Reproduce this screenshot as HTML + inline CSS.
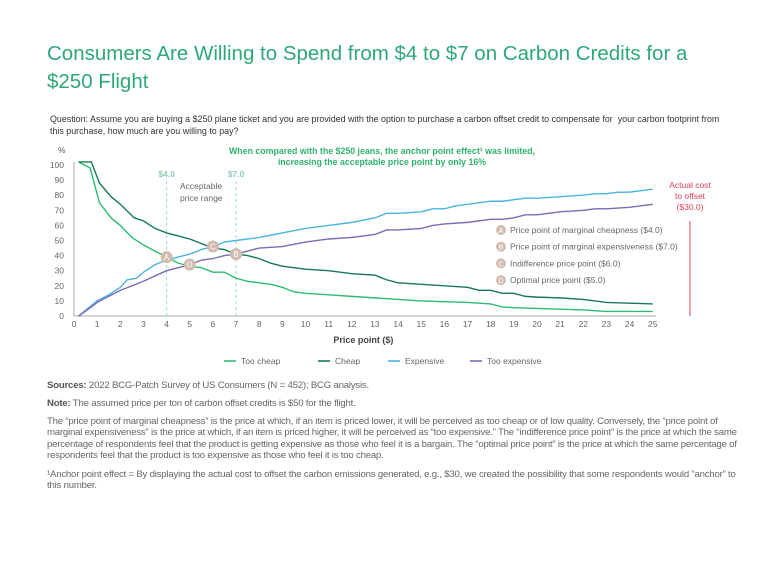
<!DOCTYPE html>
<html><head><meta charset="utf-8">
<style>
body{margin:0;width:768px;height:562px;background:#fff;font-family:"Liberation Sans",sans-serif;overflow:hidden;position:relative}
.t{position:absolute}
#title{left:47px;top:40px;width:670px;font-size:20.5px;line-height:28px;color:#2fa877}
#q{left:50px;top:113px;width:672px;font-size:8.9px;line-height:12px;color:#333}
.note{left:47px;width:694px;font-size:9.6px;line-height:11.4px;color:#666;letter-spacing:-0.2px}
.note b{color:#555}
</style></head><body>
<div id="title" class="t">Consumers Are Willing to Spend from $4 to $7 on Carbon Credits for a $250 Flight</div>
<div id="q" class="t">Question: Assume you are buying a $250 plane ticket and you are provided with the option to purchase a carbon offset credit to compensate for &nbsp;your carbon footprint from this purchase, how much are you willing to pay?</div>
<svg class="t" style="left:0;top:0" width="768" height="380" id="chart" font-family="Liberation Sans, sans-serif"></svg>
<div class="t note" style="top:380px"><b>Sources:</b> 2022 BCG-Patch Survey of US Consumers (N = 452); BCG analysis.</div>
<div class="t note" style="top:398px"><b>Note:</b> The assumed price per ton of carbon offset credits is $50 for the flight.</div>
<div class="t note" style="top:416px">The “price point of marginal cheapness” is the price at which, if an item is priced lower, it will be perceived as too cheap or of low quality. Conversely, the “price point of marginal expensiveness” is the price at which, if an item is priced higher, it will be perceived as “too expensive.” The “indifference price point” is the price at which the same percentage of respondents feel that the product is getting expensive as those who feel it is a bargain. The “optimal price point” is the price at which the same percentage of respondents feel that the product is too expensive as those who feel it is too cheap.</div>
<div class="t note" style="top:469px">¹Anchor point effect = By displaying the actual cost to offset the carbon emissions generated, e.g., $30, we created the possibility that some respondents would “anchor” to this number.</div>
<script>
const tooCheapX=[0.2,0.7,1.1,1.6,2,2.5,3,3.5,4,4.5,5,5.5,6,6.5,7,7.5,8,8.5,9,9.5,10,11,12,13,14,15,16,17,18,18.5,19,20,21,22,23,24,25];
const tooCheapY=[102,98,75,65,60,52,47,43,39,35,33,32,29,29,25,23,22,21,19,16,15,14,13,12,11,10,9.5,9,8,6,5.5,5,4.5,4,3,3,3];
const cheapX=[0.2,0.75,1.1,1.6,2,2.6,3,3.5,4,4.5,5,5.5,6,6.5,7,7.5,8,8.5,9,10,11,12,13,13.5,14,15,16,17,17.5,18,18.5,19,19.5,20,21,22,22.5,23,24,25];
const cheapY=[102,102,88,79,74,65,63,58,55,53,51,48,45,44,41,40,38,35,33,31,30,28,27,24,22,21,20,19,17,17,15,15,13,12.5,12,11,10,9,8.5,8];
const expX=[0.2,0.75,1,1.5,2,2.3,2.7,3,3.5,4,4.5,5,5.5,6,6.5,7,8,9,10,11,12,13,13.5,14,15,15.5,16,16.5,17,18,18.5,19,19.5,20,21,22,22.5,23,23.5,24,25];
const expY=[0,7,10,14,19,24,25,29,34,37,39,41,44,46,49,50,52,55,58,60,62,65,68,68,69,71,71,73,74,76,76,77,78,78,79,80,81,81,82,82,84];
const tooExpX=[0.2,0.75,1,2,3,4,4.5,5,5.5,6,6.5,7,7.5,8,9,10,11,12,13,13.5,14,15,15.5,16,17,18,18.5,19,19.5,20,21,22,22.5,23,24,25];
const tooExpY=[0,6,9,17,23,30,32,34,37,38,40,41,43,45,46,49,51,52,54,57,57,58,60,61,62,64,64,65,67,67,69,70,71,71,72,74];
const xTicks=[0,1,2,3,4,5,6,7,8,9,10,11,12,13,14,15,16,17,18,19,20,21,22,23,24,25];
const yTicks=[0,10,20,30,40,50,60,70,80,90,100];
const markerLabels=["A","B","C","D"];
const markerX=[4,7,6,5];
const markerY=[39,41,46,34];
const legendNames=["Price point of marginal cheapness ($4.0)","Price point of marginal expensiveness ($7.0)","Indifference price point ($6.0)","Optimal price point ($5.0)"];
const seriesNames=["Too cheap","Cheap","Expensive","Too expensive"];
const colors=["#2dbd6e","#177a4f","#4ab3e0","#7b6bb5"];

const NS="http://www.w3.org/2000/svg";
const svg=document.getElementById('chart');
const X=v=>74+v*23.15, Y=v=>316-v*1.51;
function mk(tag,attrs,parent){const e=document.createElementNS(NS,tag);for(const k in attrs)e.setAttribute(k,attrs[k]);(parent||svg).appendChild(e);return e;}
function txt(s,attrs){const e=mk('text',attrs);e.textContent=s;return e;}

let e=mk('line',{x1:74,y1:Y(0),x2:X(25)+3,y2:Y(0),stroke:"#aaa","stroke-width":1});


e=mk('line',{x1:74,y1:Y(0),x2:74,y2:Y(102),stroke:"#aaa","stroke-width":1});


xTicks.forEach(v=>{const t=txt(v,{x:X(v),y:327,"font-size":8.5,fill:"#666","text-anchor":"middle"});

});
yTicks.forEach(v=>{const t=txt(v,{x:64,y:Y(v)+3,"font-size":8.5,fill:"#666","text-anchor":"end"});

});
e=txt("%",{x:58,y:153,"font-size":8.5,fill:"#555"});


e=txt("Price point ($)",{x:X(12.5),y:343,"font-size":9,"font-weight":"bold",fill:"#444","text-anchor":"middle"});


[[4,"$4.0"],[7,"$7.0"]].forEach(([v,l])=>{
 const ln=mk('line',{x1:X(v),y1:Y(0),x2:X(v),y2:Y(90),stroke:"#9fd8c0","stroke-dasharray":"3,3","stroke-width":1});
 
 
 const t=txt(l,{x:X(v),y:177,"font-size":8.5,"font-weight":"bold",fill:"#8ccfb0","text-anchor":"middle"});
 
 
});
e=txt("Acceptable",{x:180,y:189,"font-size":8.5,fill:"#666"});


txt("price range",{x:180,y:201,"font-size":8.5,fill:"#666"});
e=txt("When compared with the $250 jeans, the anchor point effect¹ was limited,",{x:382,y:154,"font-size":8.8,"font-weight":"bold",fill:"#2fb36e","text-anchor":"middle"});


txt("increasing the acceptable price point by only 16%",{x:382,y:165,"font-size":8.8,"font-weight":"bold",fill:"#2fb36e","text-anchor":"middle"});
const sets=[[tooCheapX,tooCheapY],[cheapX,cheapY],[expX,expY],[tooExpX,tooExpY]];
sets.forEach(([xs,ys],i)=>{
 const p=mk('polyline',{points:xs.map((x,j)=>X(x)+","+Y(ys[j])).join(" "),fill:"none",stroke:colors[i],"stroke-width":1.4});
 
 
});
markerLabels.forEach((l,i)=>{
 const g=mk('g',{});
 
 
 mk('circle',{cx:X(markerX[i]),cy:Y(markerY[i]),r:6,fill:"#d2bcb0"},g);
 const t=mk('text',{x:X(markerX[i]),y:Y(markerY[i])+3,"font-size":8,fill:"#fff","text-anchor":"middle"},g);t.textContent=l;
});
legendNames.forEach((s,i)=>{
 const y=230+i*16.7;
 const g=mk('g',{});
 
 
 mk('circle',{cx:501,cy:y,r:5,fill:"#d2bcb0"},g);
 let t=mk('text',{x:501,y:y+3,"font-size":7.5,fill:"#fff","text-anchor":"middle"},g);t.textContent=markerLabels[i];
 t=mk('text',{x:510,y:y+3,"font-size":8.5,fill:"#666"},g);t.textContent=s;
});
e=mk('line',{x1:690,y1:221,x2:690,y2:316,stroke:"#e0405a","stroke-width":1});


["Actual cost","to offset","($30.0)"].forEach((s,i)=>{const t=txt(s,{x:690,y:188+i*11,"font-size":8.5,fill:"#e0405a","text-anchor":"middle"});
 
 });
const lx=[224,318,388,470];
seriesNames.forEach((s,i)=>{
 const g=mk('g',{});
 
 
 mk('line',{x1:lx[i],y1:361,x2:lx[i]+12,y2:361,stroke:colors[i],"stroke-width":1.6},g);
 const t=mk('text',{x:lx[i]+17,y:364,"font-size":8.5,fill:"#666"},g);t.textContent=s;
});
</script>
</body></html>
